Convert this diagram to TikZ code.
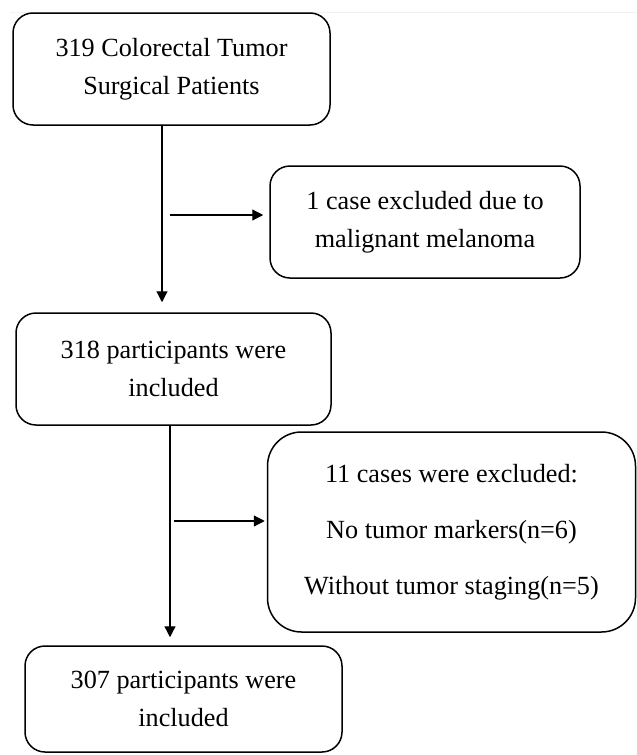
\documentclass[tikz,border=0pt]{standalone}
\usepackage{fontspec}
\setmainfont{Liberation Serif}
\usetikzlibrary{arrows.meta}
\begin{document}
\begin{tikzpicture}[x=1pt,y=-1pt,
  box/.style={draw,line width=1.5pt,rounded corners=20pt,align=center,inner sep=0pt,
    font=\fontsize{26.2}{38}\selectfont},
  arr/.style={line width=1.2pt,-{Triangle[length=11pt,width=11pt]}}]
\useasboundingbox (0,0) rectangle (637,755);
\draw[gray!12,line width=0.8pt] (10,12) -- (637,12);
\node[box,minimum width=317pt,minimum height=112pt] (b1) at (171.5,69) {319 Colorectal Tumor\\Surgical Patients};
\node[box,minimum width=310pt,minimum height=112pt] (e1) at (425,222) {1 case excluded due to\\malignant melanoma};
\node[box,minimum width=315pt,minimum height=112pt] (b2) at (173.5,369) {318 participants were\\included};
\node[box,rounded corners=34pt,minimum width=368pt,minimum height=200pt,font=\fontsize{26.2}{56}\selectfont] (e2) at (451.5,532) {11 cases were excluded:\\No tumor markers(n=6)\\Without tumor staging(n=5)};
\node[box,minimum width=317pt,minimum height=106pt] (b3) at (183.5,699) {307 participants were\\included};
\coordinate (s1) at (170,215);
\coordinate (s2) at (174,521);
\draw[arr,shorten >=10pt] (b1.south -| 162,0) -- (b2.north -| 162,0);
\draw[arr,shorten >=6pt] (s1) -- (s1 -| e1.west);
\draw[arr,shorten >=8pt] (b2.south -| 170,0) -- (b3.north -| 170,0);
\draw[arr,shorten >=2pt] (s2) -- (s2 -| e2.west);
\end{tikzpicture}
\end{document}
